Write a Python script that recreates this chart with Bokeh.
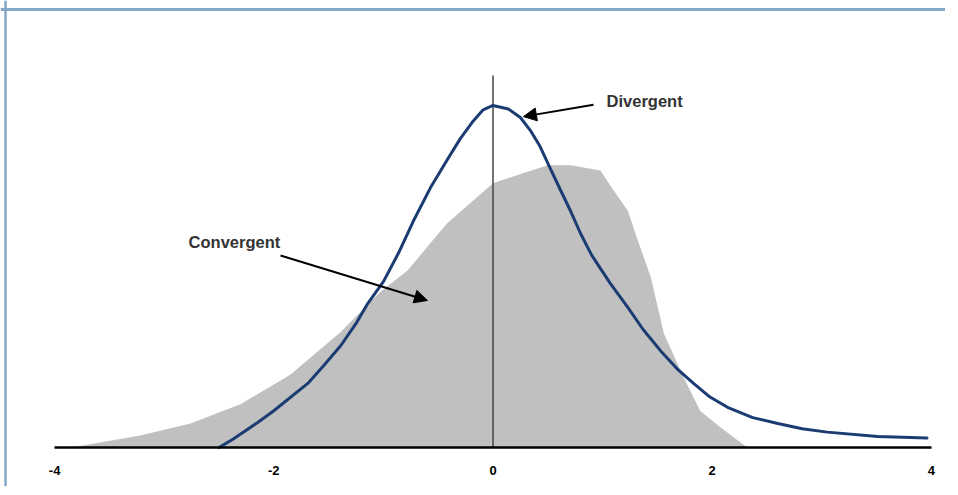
from bokeh.plotting import figure
from bokeh.models import Range1d, FixedTicker, Arrow, NormalHead, Label, Span, ColumnDataSource
from bokeh.embed import file_html
from bokeh.resources import INLINE

# Convergent (gray area) distribution
GRAY_X = [-3.85, -3.22, -2.76, -2.30, -1.85, -1.39, -1.03, -0.78, -0.63, -0.42, 0.00, 0.25,
          0.50, 0.71, 0.98, 1.10, 1.23, 1.30, 1.44, 1.56, 1.74, 1.89, 2.08, 2.32]
GRAY_Y = [0.0, 0.014, 0.028, 0.051, 0.085, 0.135, 0.182, 0.207, 0.230, 0.262, 0.309, 0.320,
          0.330, 0.330, 0.324, 0.301, 0.277, 0.250, 0.199, 0.133, 0.082, 0.043, 0.023, 0.0]

# Divergent (blue line) distribution
BLUE_X = [-2.50, -2.37, -2.15, -2.00, -1.69, -1.55, -1.39, -1.24, -1.15, -1.00, -0.86, -0.73,
          -0.57, -0.42, -0.30, -0.18, -0.09, 0.00, 0.14, 0.25, 0.34, 0.43, 0.52, 0.62, 0.71,
          0.80, 0.90, 1.07, 1.23, 1.37, 1.53, 1.68, 1.83, 1.98, 2.14, 2.37, 2.60, 2.82, 3.05,
          3.51, 3.96]
BLUE_Y = [0.0, 0.010, 0.029, 0.043, 0.075, 0.095, 0.119, 0.147, 0.167, 0.194, 0.228, 0.264,
          0.304, 0.336, 0.361, 0.382, 0.395, 0.400, 0.396, 0.386, 0.371, 0.352, 0.327, 0.300,
          0.276, 0.250, 0.225, 0.192, 0.164, 0.138, 0.113, 0.092, 0.075, 0.059, 0.047, 0.035,
          0.028, 0.022, 0.018, 0.013, 0.011]

TICKS = [-4, -2, 0, 2, 4]
TICK_LABELS = ["-4", "-2", "0", "2", "4"]
AXIS_BOUNDS = (-4, 4)
VLINE_TOP = 0.435

X_START, X_END = -4.494, 4.129
Y_START, Y_END = -0.0456, 0.5228
BORDER_TOP, BORDER_LEFT = 0.5123, -4.448

p = figure(width=945, height=486, output_backend="svg", toolbar_location=None,
           x_range=Range1d(X_START, X_END), y_range=Range1d(Y_START, Y_END),
           min_border=0, min_border_left=0, min_border_right=0,
           min_border_top=0, min_border_bottom=0)
p.outline_line_color = None
p.background_fill_color = "white"
p.border_fill_color = "white"
p.grid.visible = False
p.yaxis.visible = False

gsrc = ColumnDataSource(dict(x=GRAY_X, y=GRAY_Y))
p.varea(x="x", y1=0, y2="y", source=gsrc, fill_color="#c0c0c0", fill_alpha=1.0)

# vertical reference line at x=0
p.segment(x0=[0], y0=[0], x1=[0], y1=[VLINE_TOP], line_color="#444444", line_width=1.5)

bsrc = ColumnDataSource(dict(x=BLUE_X, y=BLUE_Y))
p.line(x="x", y="y", source=bsrc, line_color="#1b3c72", line_width=3,
       line_join="round", line_cap="round")

xa = p.xaxis[0]
xa.fixed_location = 0
xa.bounds = AXIS_BOUNDS
xa.ticker = FixedTicker(ticks=TICKS)
xa.major_label_overrides = {t: s for t, s in zip(TICKS, TICK_LABELS)}
xa.axis_line_color = "black"
xa.axis_line_width = 2.5
xa.major_tick_line_color = None
xa.minor_tick_line_color = None
xa.major_tick_out = 0
xa.major_tick_in = 0
xa.major_label_standoff = 18
xa.major_label_text_font = "Liberation Sans"
xa.major_label_text_font_style = "bold"
xa.major_label_text_font_size = "13px"
xa.major_label_text_color = "black"

# annotations
p.add_layout(Arrow(end=NormalHead(size=13, fill_color="black", line_color="black"),
                   x_start=-1.939, y_start=0.2246, x_end=-0.598, y_end=0.172,
                   line_color="black", line_width=2))
p.add_layout(Arrow(end=NormalHead(size=13, fill_color="black", line_color="black"),
                   x_start=0.917, y_start=0.401, x_end=0.278, y_end=0.387,
                   line_color="black", line_width=2))

p.add_layout(Label(x=-2.778, y=0.240, text="Convergent", text_font="Liberation Sans",
                   text_font_style="bold", text_font_size="16.5px", text_color="#333333",
                   text_baseline="middle"))
p.add_layout(Label(x=1.036, y=0.405, text="Divergent", text_font="Liberation Sans",
                   text_font_style="bold", text_font_size="16.5px", text_color="#333333",
                   text_baseline="middle"))

# blue-gray frame border (top and left)
p.add_layout(Span(location=BORDER_TOP, dimension="width", line_color="#86a8c8", line_width=3))
p.add_layout(Span(location=BORDER_LEFT, dimension="height", line_color="#86a8c8", line_width=2.5))

open("out.html", "w").write(file_html(p, INLINE))
